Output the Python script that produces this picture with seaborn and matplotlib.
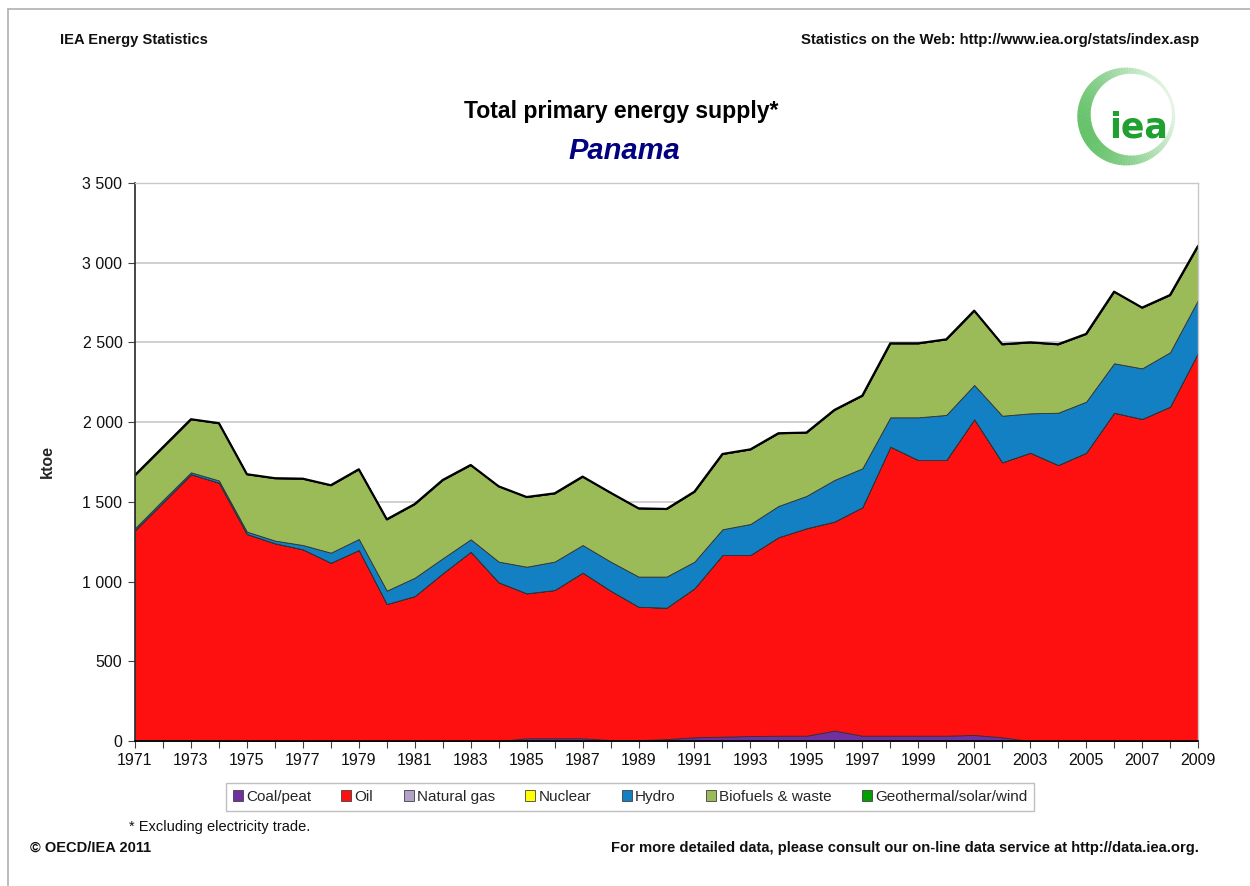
import matplotlib
matplotlib.use("Agg")
import matplotlib.pyplot as plt
import numpy as np
import pandas as pd
import seaborn as sns
from matplotlib.lines import Line2D
from matplotlib.patches import Patch, Wedge
from matplotlib.ticker import FuncFormatter, MultipleLocator

sns.set_theme(style="white")
plt.rcParams["font.family"] = ["Liberation Sans", "DejaVu Sans"]

# ----------------------------------------------------------------------
# DATA (ktoe)
# ----------------------------------------------------------------------
years = list(range(1971, 2010))

coal = [5, 5, 5, 4, 0, 0, 0, 0, 0, 0, 0, 0, 0, 0, 17, 17, 17, 6, 5, 12,
        23, 27, 31, 33, 33, 65, 33, 33, 33, 33, 38, 23, 0, 0, 0, 0, 0, 0, 0]
oil = [1318, 1493, 1668, 1616, 1298, 1240, 1202, 1118, 1198, 859,
       909, 1052, 1187, 995, 909, 930, 1039, 937, 837, 824,
       935, 1140, 1136, 1245, 1301, 1311, 1433, 1813, 1729, 1729,
       1980, 1725, 1808, 1731, 1808, 2059, 2020, 2097, 2435]
natural_gas = [0] * 39
nuclear = [0] * 39
hydro = [12, 14, 12, 14, 15, 17, 27, 63, 69, 84,
         115, 94, 78, 130, 167, 178, 173, 182, 189, 195,
         167, 161, 194, 196, 203, 261, 244, 184, 268, 283,
         215, 292, 247, 328, 320, 310, 317, 341, 331]
biofuels = [333, 331, 333, 359, 360, 391, 416, 423, 437, 447,
            462, 491, 466, 472, 437, 428, 429, 432, 428, 424,
            439, 472, 468, 456, 397, 439, 456, 464, 464, 474,
            466, 448, 445, 429, 425, 449, 381, 359, 339]
geothermal = [0] * 39

series_names = ["Coal/peat", "Oil", "Natural gas", "Nuclear", "Hydro",
                "Biofuels & waste", "Geothermal/solar/wind"]
series_colors = ["#7030A0", "#FF1010", "#B3A2C7", "#FFFF00", "#1480C4",
                 "#9BBB59", "#00A000"]

df = pd.DataFrame({
    "year": years,
    "Coal/peat": coal,
    "Oil": oil,
    "Natural gas": natural_gas,
    "Nuclear": nuclear,
    "Hydro": hydro,
    "Biofuels & waste": biofuels,
    "Geothermal/solar/wind": geothermal,
})
df["total"] = df[series_names].sum(axis=1)

# ----------------------------------------------------------------------
# FIGURE
# ----------------------------------------------------------------------
fig = plt.figure(figsize=(12.5, 8.86), dpi=100)
ax = fig.add_axes([0.108, 0.1637, 0.8504, 0.6298])

ax.stackplot(df["year"], [df[c] for c in series_names], colors=series_colors,
             edgecolor="#303030", linewidth=0.6)
sns.lineplot(data=df, x="year", y="total", ax=ax, color="black", linewidth=1.6)

ax.set_xlim(1971, 2009)
ax.set_ylim(0, 3500)
ax.yaxis.set_major_locator(MultipleLocator(500))
ax.yaxis.set_major_formatter(FuncFormatter(lambda v, p: f"{int(v):,}".replace(",", " ")))
ax.set_xticks(years)
ax.set_xticklabels([str(y) if (y - 1971) % 2 == 0 else "" for y in years])
ax.grid(axis="y", color="#C8C8C8", linewidth=1.2)
ax.set_axisbelow(True)
ax.tick_params(axis="both", direction="out", length=5, width=0.8, color="#404040",
               labelsize=11.5, pad=4, bottom=True, left=True, labelcolor="#101010")
for side in ["top", "right"]:
    ax.spines[side].set_color("#C8C8C8")
    ax.spines[side].set_linewidth(1.0)
ax.spines["left"].set_color("#303030")
ax.spines["bottom"].set_color("black")
ax.spines["bottom"].set_linewidth(1.2)
ax.set_xlabel("")
ax.set_ylabel("ktoe", fontsize=11.5, fontweight="bold", labelpad=20)

# legend
handles = [Patch(facecolor=c, edgecolor="#404040", linewidth=0.6) for c in series_colors]
leg = fig.legend(handles, series_names, loc="center", bbox_to_anchor=(0.504, 0.1005),
                 ncol=7, fontsize=11, frameon=True, fancybox=False,
                 handlelength=0.65, handleheight=0.65, handletextpad=0.2,
                 columnspacing=2.0, borderpad=0.45)
leg.get_frame().set_edgecolor("#B0B0B0")
leg.get_frame().set_linewidth(1.0)

# texts
fig.text(0.048, 0.955, "IEA Energy Statistics", fontsize=10.6, fontweight="bold",
         ha="left", va="center", color="#101010")
fig.text(0.959, 0.955, "Statistics on the Web: http://www.iea.org/stats/index.asp",
         fontsize=10.7, fontweight="bold", ha="right", va="center", color="#101010")
fig.text(0.497, 0.874, "Total primary energy supply*", fontsize=16.6, fontweight="bold",
         ha="center", va="center", color="black")
fig.text(0.4995, 0.830, "Panama", fontsize=21, fontweight="bold", style="italic",
         ha="center", va="center", color="#000080")
fig.text(0.103, 0.067, "* Excluding electricity trade.", fontsize=10.5,
         ha="left", va="center", color="#101010")
fig.text(0.024, 0.043, "\u00a9 OECD/IEA 2011", fontsize=10.5, fontweight="bold",
         ha="left", va="center", color="#101010")
fig.text(0.959, 0.043,
         "For more detailed data, please consult our on-line data service at http://data.iea.org.",
         fontsize=10.6, fontweight="bold", ha="right", va="center", color="#101010")

# page border (top and left)
fig.add_artist(Line2D([0.0065, 0.0065], [0, 0.990], color="#B0B0B0", linewidth=1.2))
fig.add_artist(Line2D([0.0065, 1.0], [0.990, 0.990], color="#B0B0B0", linewidth=1.2))

# logo
lax = fig.add_axes([0.856, 0.805, 0.09, 0.127])
lax.set_xlim(-1.15, 1.15)
lax.set_ylim(-1.15, 1.15)
lax.set_aspect("equal")
lax.axis("off")
steps = np.linspace(0, 360, 181)
for a0, a1 in zip(steps[:-1], steps[1:]):
    mid = np.deg2rad((a0 + a1) / 2)
    w = 0.5 + 0.5 * np.cos(mid - np.deg2rad(200))
    col = (0.36, 0.75, 0.38, 0.12 + 0.8 * w)
    lax.add_patch(Wedge((0, 0), 1.0, a0, a1 + 0.6, width=0.06 + 0.22 * w,
                        facecolor=col, edgecolor="none"))
lax.text(0.25, -0.22, "iea", fontsize=25, fontweight="bold", family="DejaVu Sans",
         color="#20A030", ha="center", va="center")

fig.savefig("out.png", dpi=100)
